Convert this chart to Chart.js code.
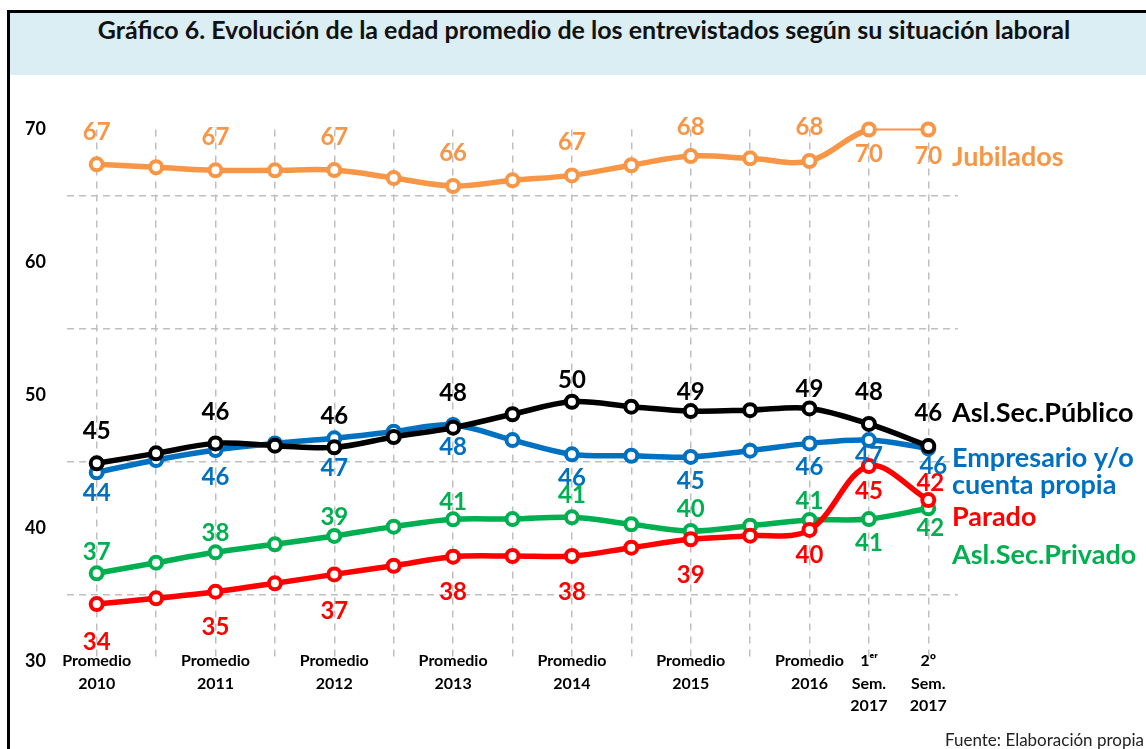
<!DOCTYPE html>
<html>
<head>
<meta charset="utf-8">
<script src="https://cdn.jsdelivr.net/npm/chart.js@4/dist/chart.umd.min.js"></script>
<style>
  body { margin: 0; width: 1146px; height: 749px; position: relative; overflow: hidden; background: #fff; font-family: Lato, "Open Sans", sans-serif; }
  #frame { position: absolute; left: 7px; top: 10px; width: 1200px; height: 800px; border-left: 3px solid #000; border-top: 3px solid #000; }
  #header { position: absolute; left: 10px; top: 13px; width: 1136px; height: 62px; background: #DAEEF3; }
  #title { position: absolute; left: 0; top: 14px; width: 1168px; text-align: center; font-weight: bold; font-size: 25px; color: #111; }
  #source { position: absolute; right: 2px; top: 729px; font-size: 17px; color: #222; }
  #chart-box { position: absolute; left: 0; top: 0; width: 1146px; height: 749px; }
</style>
</head>
<body>
<div id="frame"></div>
<div id="header"></div>
<div id="title">Gráfico 6. Evolución de la edad promedio de los entrevistados según su situación laboral</div>
<div id="chart-box"><canvas id="edad-chart" width="1146" height="749"></canvas></div>
<div id="source">Fuente: Elaboración propia</div>

<script>
// periodos (los intermedios no llevan etiqueta en el eje)
const categories = [
  ["Promedio", "2010"], "", ["Promedio", "2011"], "", ["Promedio", "2012"], "",
  ["Promedio", "2013"], "", ["Promedio", "2014"], "", ["Promedio", "2015"], "",
  ["Promedio", "2016"], ["1ᵉʳ", "Sem.", "2017"], ["2º", "Sem.", "2017"]
];

const jubilados   = [67.38, 67.16, 66.93, 66.93, 66.95, 66.35, 65.75, 66.18, 66.55, 67.31, 68.0, 67.83, 67.63, 70.0, 70.0];
const publico     = [44.9, 45.65, 46.4, 46.23, 46.1, 46.88, 47.58, 48.59, 49.53, 49.16, 48.83, 48.9, 49.03, 47.86, 46.2];
const empresario  = [44.22, 45.15, 45.9, 46.4, 46.78, 47.28, 47.78, 46.65, 45.58, 45.47, 45.38, 45.85, 46.4, 46.65, 46.03];
const privado     = [36.63, 37.43, 38.21, 38.81, 39.44, 40.14, 40.69, 40.71, 40.84, 40.32, 39.81, 40.21, 40.64, 40.71, 41.52];
const parado      = [34.32, 34.75, 35.25, 35.88, 36.55, 37.2, 37.88, 37.93, 37.93, 38.56, 39.19, 39.46, 39.89, 44.7, 42.14];

const yTicks = [30, 40, 50, 60, 70];

// donde va cada etiqueta de valor: [indice, desplazamiento x, desplazamiento y]
const jubiladosLabels  = [[0, 0, -32], [2, 0, -33], [4, 0, -33], [6, 0, -33], [8, 0, -33], [10, 0, -29], [12, 0, -34], [13, 0, 25], [14, 0, 27]];
const publicoLabels    = [[0, 0, -32], [2, 0, -31], [4, 0, -31], [6, 0, -34], [8, 0, -21], [10, 0, -19], [12, 0, -19], [13, 0, -32], [14, 0, -33]];
const empresarioLabels = [[0, 0, 21], [2, 0, 27], [4, 0, 30], [6, 0, 22], [8, 0, 24], [10, 0, 24], [12, 0, 24], [13, 0, 16], [14, 5, 18]];
const privadoLabels    = [[0, 0, -21], [2, 0, -19], [4, 0, -19], [6, 0, -17], [8, 0, -22], [10, 0, -22], [12, 0, -19], [13, 0, 24], [14, 2, 20]];
const paradoLabels     = [[0, 0, 38], [2, 0, 36], [4, 0, 37], [6, 0, 36], [8, 0, 36], [10, 0, 36], [12, 0, 25], [13, 0, 25], [14, 2, -17]];

const ORANGE = "#F79646";
const BLACK = "#000000";
const BLUE = "#0070C0";
const GREEN = "#00B050";
const RED = "#FF0000";
const GRID = "#BFBFBF";

function buildSeries(label, data, color, order, spots) {
  return {
    label: label,
    data: data,
    borderColor: color,
    borderWidth: 5.5,
    tension: 0.35,
    clip: false,
    pointRadius: 6,
    pointBorderWidth: 4,
    pointBackgroundColor: "#FFFFFF",
    pointBorderColor: color,
    order: order,
    valueSpots: spots
  };
}

const valueLabels = {
  id: "valueLabels",
  afterDatasetsDraw(chart) {
    const ctx = chart.ctx;
    ctx.save();
    ctx.font = "bold 24px Lato, sans-serif";
    ctx.textAlign = "center";
    ctx.textBaseline = "middle";
    chart.data.datasets.forEach((ds, i) => {
      const meta = chart.getDatasetMeta(i);
      ctx.fillStyle = ds.borderColor;
      for (const spot of ds.valueSpots) {
        const pt = meta.data[spot[0]];
        ctx.fillText(Math.round(ds.data[spot[0]]), pt.x + spot[1], pt.y + spot[2]);
      }
    });
    ctx.restore();
  }
};

// etiquetas del eje x dibujadas a mano: en el original se montan sobre la linea de 30
const categoryLabels = {
  id: "categoryLabels",
  afterDraw(chart) {
    const ctx = chart.ctx;
    const xScale = chart.scales.x;
    const top = chart.chartArea.bottom - 0.5;
    ctx.save();
    ctx.font = "bold 16px Lato, sans-serif";
    ctx.fillStyle = "#000";
    ctx.textAlign = "center";
    ctx.textBaseline = "middle";
    categories.forEach((label, i) => {
      const lines = Array.isArray(label) ? label : [label];
      const x = xScale.getPixelForValue(i);
      lines.forEach((line, k) => ctx.fillText(line, x, top + k * 22.5));
    });
    ctx.restore();
  }
};

const seriesNames = {
  id: "seriesNames",
  afterDraw(chart) {
    const ctx = chart.ctx;
    const x = chart.chartArea.right - 6;
    ctx.save();
    ctx.font = "bold 27px Lato, sans-serif";
    ctx.textAlign = "left";
    ctx.textBaseline = "middle";
    [
      ["Jubilados", ORANGE, 157],
      ["Asl.Sec.Público", BLACK, 413],
      ["Empresario y/o", BLUE, 458],
      ["cuenta propia", BLUE, 485],
      ["Parado", RED, 517],
      ["Asl.Sec.Privado", GREEN, 555]
    ].forEach(item => {
      ctx.fillStyle = item[1];
      ctx.fillText(item[0], x, item[2]);
    });
    ctx.restore();
  }
};

const jubSeries = buildSeries("Jubilados", jubilados, ORANGE, 5, jubiladosLabels);
jubSeries.segment = { borderWidth: c => c.p0DataIndex === 13 ? 2 : 5.5 };

const chartData = {
  labels: categories,
  datasets: [
    buildSeries("Asl.Sec.Público", publico, BLACK, 1, publicoLabels),
    buildSeries("Parado", parado, RED, 2, paradoLabels),
    buildSeries("Empresario y/o cuenta propia", empresario, BLUE, 3, empresarioLabels),
    buildSeries("Asl.Sec.Privado", privado, GREEN, 4, privadoLabels),
    jubSeries
  ]
};

const chartOptions = {
  responsive: false,
  animation: false,
  events: [],
  layout: { padding: { left: 0, right: 188, top: 129.5, bottom: 0 } },
  plugins: {
    legend: { display: false },
    tooltip: { enabled: false }
  },
  scales: {
    x: {
      offset: true,
      border: { display: false, dash: [7, 6] },
      grid: { offset: false, color: GRID, lineWidth: 1.5, drawTicks: false },
      ticks: { display: false, autoSkip: false, maxRotation: 0 },
      afterFit: axis => { axis.height = 87.5; }
    },
    y: {
      min: 30,
      max: 70,
      border: { display: false, dash: [7, 5] },
      grid: {
        drawTicks: false,
        lineWidth: 1.5,
        color: c => (c.tick && c.tick.value % 10 === 5) ? GRID : "rgba(0,0,0,0)"
      },
      ticks: {
        stepSize: 5,
        padding: 21,
        color: "#000",
        font: { family: "Lato", weight: "bold", size: 18 },
        callback: v => yTicks.includes(v) ? v : ""
      },
      afterFit: axis => { axis.width = 67; }
    }
  }
};

new Chart("edad-chart", {
  type: "line",
  data: chartData,
  options: chartOptions,
  plugins: [valueLabels, categoryLabels, seriesNames]
});
</script>
</body>
</html>
